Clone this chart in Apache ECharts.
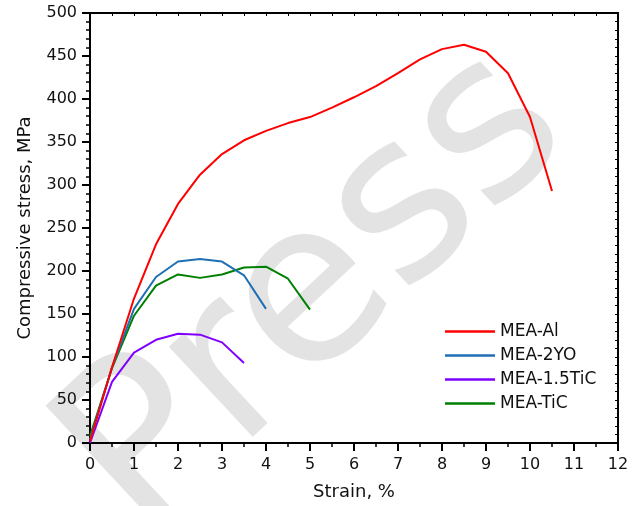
<!DOCTYPE html>
<html>
<head>
<meta charset="utf-8">
<script src="https://cdn.jsdelivr.net/npm/echarts@6/dist/echarts.min.js"></script>
<style>
  html, body { margin: 0; padding: 0; background: #fff; }
  #chart { width: 640px; height: 506px; }
</style>
</head>
<body>
<div id="chart"></div>
<script>
// Strain steps (%) shared by all curves
const strain = [0, 0.5, 1, 1.5, 2, 2.5, 3, 3.5, 4, 4.5, 5, 5.5, 6, 6.5, 7, 7.5, 8, 8.5, 9, 9.5, 10, 10.5];

// Compressive stress (MPa) for each alloy
const meaAl     = [2, 88, 168, 231, 278, 312, 336, 352, 363, 372, 379, 390, 402, 415, 430, 446, 458, 463, 455, 430, 379, 293];
const mea2YO    = [4, 88, 156, 193, 211, 214, 211, 195, 156];
const mea15TiC  = [0, 71, 105, 120, 127, 126, 117, 93];
const meaTiC    = [8, 87, 148, 183, 196, 192, 196, 204, 205, 191, 155];

const seriesNames = ['MEA-Al', 'MEA-2YO', 'MEA-1.5TiC', 'MEA-TiC'];
const seriesColors = ['#ff0000', '#1f6fb4', '#8000ff', '#008000'];
const seriesValues = [meaAl, mea2YO, mea15TiC, meaTiC];

const FONT = '"DejaVu Sans", sans-serif';

function toPairs(values) {
  return values.map((v, i) => [strain[i], v]);
}

const chart = echarts.init(document.getElementById('chart'), null, { renderer: 'canvas' });

const axisLine = { show: true, onZero: false, lineStyle: { color: '#000', width: 2 } };

chart.setOption({
  animation: false,
  backgroundColor: '#fff',
  graphic: [{
    type: 'text',
    x: 318,
    y: 296,
    rotation: 43 * Math.PI / 180,
    z: -10,
    silent: true,
    style: {
      text: 'Press',
      font: 'normal 225px ' + FONT,
      fill: '#e3e3e3',
      align: 'center',
      verticalAlign: 'middle'
    }
  }],
  grid: { left: 90, right: 22, top: 13, bottom: 63, containLabel: false },
  legend: {
    orient: 'vertical',
    left: 440,
    top: 318,
    icon: 'rect',
    itemWidth: 50,
    itemHeight: 2.5,
    itemGap: 7,
    data: seriesNames,
    textStyle: { fontFamily: FONT, fontSize: 17, color: '#111', lineHeight: 17 }
  },
  xAxis: [{
    type: 'value',
    position: 'bottom',
    min: 0, max: 12, interval: 1,
    name: 'Strain, %',
    nameLocation: 'middle',
    nameGap: 40,
    nameTextStyle: { fontFamily: FONT, fontSize: 18, color: '#111' },
    axisLine: axisLine,
    axisTick: { show: true, inside: false, length: 8, lineStyle: { color: '#000', width: 2 } },
    minorTick: { show: true, splitNumber: 2, length: 4, lineStyle: { color: '#000', width: 1.5 } },
    axisLabel: { margin: 14, fontFamily: FONT, fontSize: 16, color: '#111' },
    splitLine: { show: false }
  }, {
    type: 'value',
    position: 'top',
    min: 0, max: 12, interval: 0.5,
    axisLine: axisLine,
    axisTick: { show: true, inside: true, length: 3, lineStyle: { color: '#000', width: 1 } },
    axisLabel: { show: false },
    splitLine: { show: false }
  }],
  yAxis: [{
    type: 'value',
    position: 'left',
    min: 0, max: 500, interval: 50,
    name: 'Compressive stress, MPa',
    nameLocation: 'middle',
    nameGap: 56,
    nameTextStyle: { fontFamily: FONT, fontSize: 18, color: '#111' },
    axisLine: axisLine,
    axisTick: { show: true, inside: false, length: 8, lineStyle: { color: '#000', width: 2 } },
    minorTick: { show: true, splitNumber: 5, length: 4, lineStyle: { color: '#000', width: 1.5 } },
    axisLabel: { margin: 13, fontFamily: FONT, fontSize: 16, color: '#111' },
    splitLine: { show: false }
  }, {
    type: 'value',
    position: 'right',
    min: 0, max: 500, interval: 10,
    axisLine: axisLine,
    axisTick: { show: true, inside: true, length: 3, lineStyle: { color: '#000', width: 1 } },
    axisLabel: { show: false },
    splitLine: { show: false }
  }],
  series: seriesValues.map((vals, i) => ({
    name: seriesNames[i],
    type: 'line',
    xAxisIndex: 0,
    yAxisIndex: 0,
    data: toPairs(vals),
    symbol: 'none',
    showSymbol: false,
    smooth: false,
    color: seriesColors[i],
    itemStyle: { color: seriesColors[i] },
    lineStyle: { color: seriesColors[i], width: 2 },
    z: 5 + (seriesValues.length - i)
  }))
});
</script>
</body>
</html>
